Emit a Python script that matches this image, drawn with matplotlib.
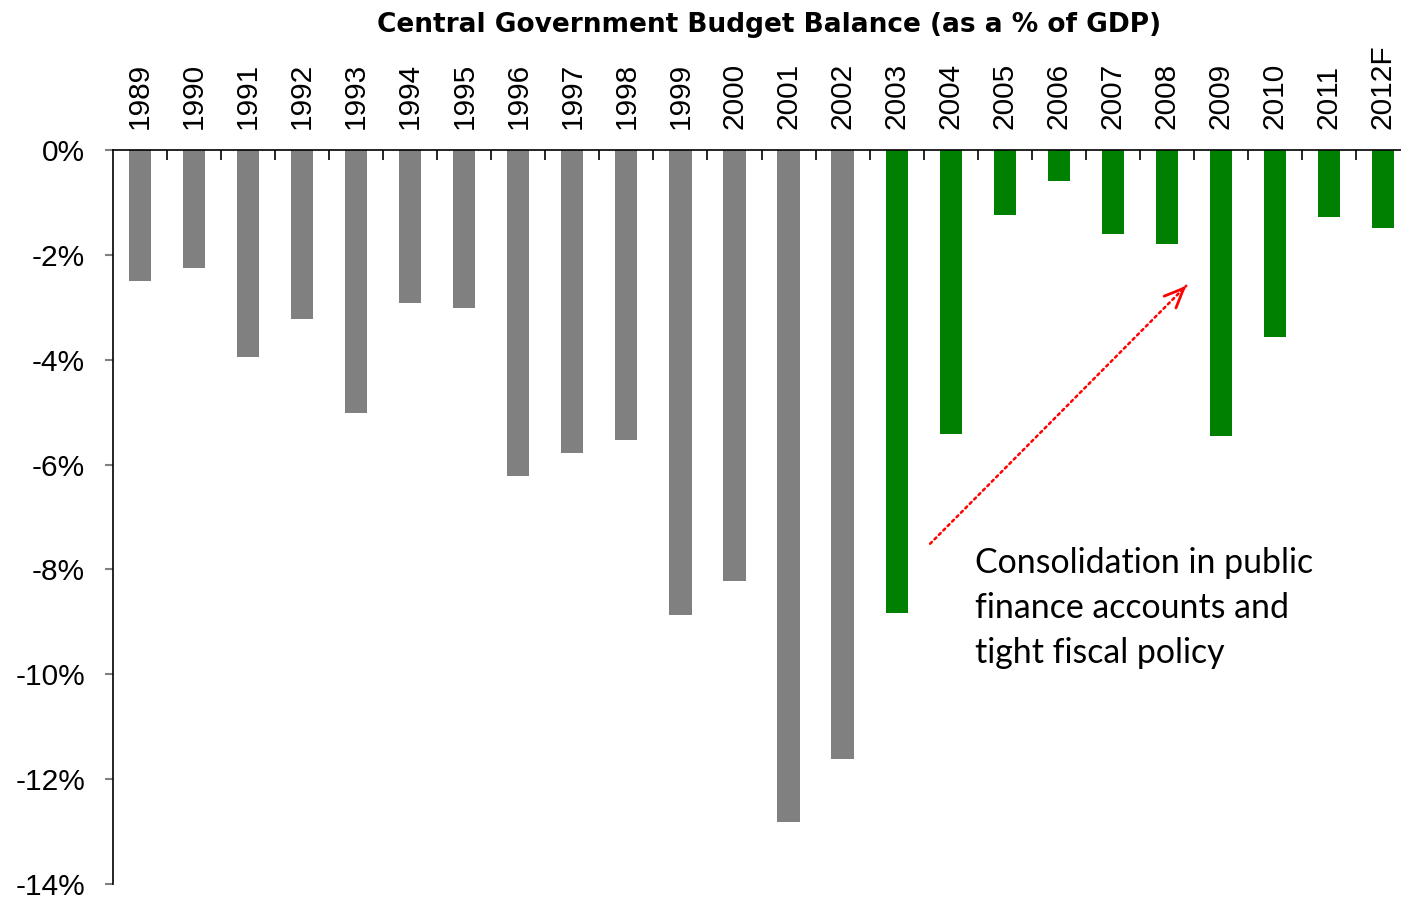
import matplotlib
matplotlib.use("Agg")
import matplotlib.pyplot as plt
from matplotlib.ticker import FixedLocator, FuncFormatter

years = ["1989", "1990", "1991", "1992", "1993", "1994", "1995", "1996", "1997", "1998",
         "1999", "2000", "2001", "2002", "2003", "2004", "2005", "2006", "2007", "2008",
         "2009", "2010", "2011", "2012F"]
balance = [-2.50, -2.25, -3.95, -3.22, -5.02, -2.92, -3.01, -6.22, -5.78, -5.53,
           -8.87, -8.22, -12.82, -11.62, -8.83, -5.42, -1.24, -0.59, -1.60, -1.79,
           -5.45, -3.57, -1.28, -1.49]
n_gray = 14
colors = ["#808080"] * n_gray + ["#008000"] * (len(years) - n_gray)
yticks = [0, -2, -4, -6, -8, -10, -12, -14]

fig = plt.figure(figsize=(14.01, 8.99), dpi=100)
ax = fig.add_axes([113 / 1401, 1 - 884 / 899, 1297 / 1401, 734 / 899])

x = list(range(len(years)))
ax.bar(x, balance, width=0.41, color=colors, zorder=2)

ax.set_xlim(-0.5, len(years) - 0.5)
ax.set_ylim(-14, 0)

ax.spines["bottom"].set_visible(False)
ax.spines["right"].set_visible(False)
ax.spines["top"].set_color("black")
ax.spines["left"].set_color("black")
ax.spines["top"].set_linewidth(1.2)
ax.spines["left"].set_linewidth(1.2)

ax.xaxis.set_ticks_position("top")
ax.set_xticks(x)
ax.set_xticklabels(years, rotation=90, fontsize=21.5, family="Liberation Sans")
ax.tick_params(axis="x", which="major", length=0, pad=15)
ax.xaxis.set_minor_locator(FixedLocator([i + 0.5 for i in range(len(years) - 1)]))
ax.tick_params(axis="x", which="minor", direction="in", length=7, width=1.2, color="black")

ax.set_yticks(yticks)
ax.yaxis.set_major_formatter(FuncFormatter(lambda v, p: f"{int(round(v))}%"))
ax.tick_params(axis="y", direction="out", length=6, width=1.5, color="#808080", pad=14,
               labelsize=21.5)
for lab in ax.get_yticklabels():
    lab.set_family("Liberation Sans")

fig.text(0.549, 0.972, "Central Government Budget Balance (as a % of GDP)",
         ha="center", va="center", fontsize=19, fontweight="bold", family="DejaVu Sans")

# dotted shaft
ax.annotate("", xy=(19.36, -2.59), xytext=(14.62, -7.51),
            arrowprops=dict(arrowstyle="-", color="red",
                            lw=1.8, linestyle=(0, (1, 1.5)), shrinkA=0, shrinkB=0))
# solid open arrow head
ax.annotate("", xy=(19.36, -2.59), xytext=(19.30, -2.652),
            arrowprops=dict(arrowstyle="->,head_length=1.4,head_width=0.6", color="red",
                            lw=2.0, shrinkA=0, shrinkB=0))
ax.text(15.45, -7.58, "Consolidation in public\nfinance accounts and\ntight fiscal policy",
        ha="left", va="top", fontsize=24.4, family="Lato", linespacing=1.5)

fig.savefig("out.png", dpi=100)
